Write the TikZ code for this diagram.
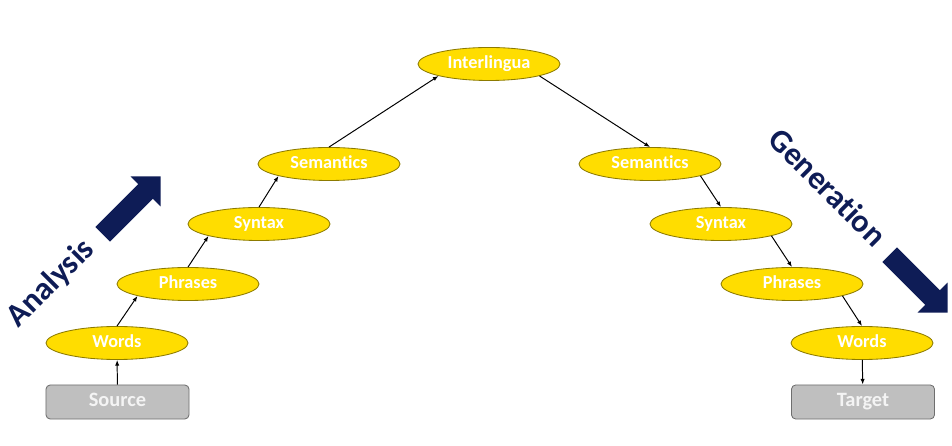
\documentclass[tikz,border=0pt]{standalone}
\usepackage{fontspec}
\setmainfont{Carlito}[Ligatures=NoCommon]
\usetikzlibrary{arrows.meta,shapes.geometric,shapes.arrows}
\definecolor{levelfill}{HTML}{FFDD00}
\definecolor{levelline}{HTML}{8C7A00}
\definecolor{endfill}{HTML}{BFBFBF}
\definecolor{endline}{HTML}{6E6E6E}
\definecolor{endtext}{HTML}{F4F4F4}
\definecolor{navy}{HTML}{0E1C56}

\begin{document}
\begin{tikzpicture}[x=0.025cm,y=0.025cm,font=\bfseries,
level/.style={ellipse,draw=levelline,fill=levelfill,line width=.6pt,minimum width=3.55cm,minimum height=.825cm,inner sep=0pt,text height=.66em,text depth=.04em,text=white,font=\bfseries\fontsize{13}{15}\selectfont},
endbox/.style={draw=endline,fill=endfill,rounded corners=3pt,line width=.6pt,minimum width=3.575cm,minimum height=.85cm,inner sep=0pt,text height=.66em,text depth=.04em,text=endtext,font=\bfseries\fontsize{14.5}{16}\selectfont},
bigarrow/.style={single arrow,fill=navy,inner sep=0pt,inner ysep=.25cm,single arrow head extend=.275cm,single arrow tip angle=90,single arrow head indent=0pt,minimum height=2.05cm},
sidelabel/.style={text=navy,anchor=base,font=\bfseries\fontsize{23}{26}\selectfont},
arrow/.style={-{Latex[length=4pt,width=3pt]},line width=.7pt}]
\useasboundingbox (0,0) rectangle (952,446);

% analysis side
\node[endbox] (source) at (117.5,44) {Source};
\node[level] (wordsA) at (117,103) {Words};
\node[level] (phrasesA) at (188,162) {Phrases};
\node[level] (syntaxA) at (259,222) {Syntax};
\node[level] (semanticsA) at (329,282) {Semantics};

\node[level] (interlingua) at (489,382) {Interlingua};

% generation side
\node[level] (semanticsG) at (650,282) {Semantics};
\node[level] (syntaxG) at (721,222) {Syntax};
\node[level] (phrasesG) at (792,162) {Phrases};
\node[level] (wordsG) at (862,103) {Words};
\node[endbox] (target) at (863,44) {Target};

\draw[arrow] (source)--(wordsA);
\draw[arrow] (wordsA.north)--(phrasesA.south west);
\draw[arrow] (phrasesA.north)--(syntaxA.south west);
\draw[arrow] (syntaxA.north)--(semanticsA.south west);
\draw[arrow] (semanticsA.north)--(interlingua.south west);
\draw[arrow] (interlingua.south east)--(semanticsG.north);
\draw[arrow] (semanticsG.south east)--(syntaxG.north);
\draw[arrow] (syntaxG.south east)--(phrasesG.north);
\draw[arrow] (phrasesG.south east)--(wordsG.north);
\draw[arrow] (wordsG)--(target);

\node[bigarrow,rotate=45] (upArrow) at (128,237) {};
\node[sidelabel,rotate=45] (analysis) at (57,156) {Analysis};
\node[bigarrow,rotate=-45] (downArrow) at (915,166) {};
\node[sidelabel,rotate=-45] (generation) at (820,251) {Generation};
\end{tikzpicture}
\end{document}
